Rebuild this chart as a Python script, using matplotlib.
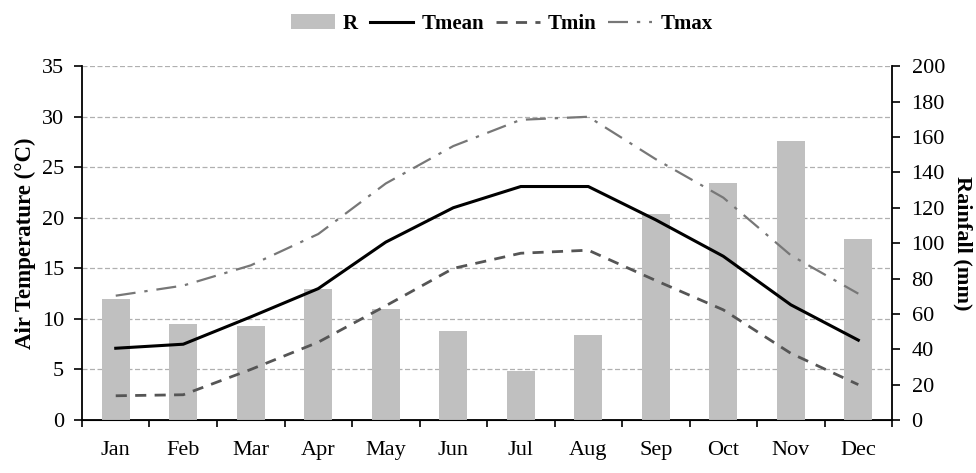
import matplotlib
matplotlib.use("Agg")
import matplotlib.pyplot as plt
import numpy as np

months = ["Jan", "Feb", "Mar", "Apr", "May", "Jun",
          "Jul", "Aug", "Sep", "Oct", "Nov", "Dec"]
rain = [68.4, 54.4, 53.3, 73.8, 62.9, 50.5, 27.7, 48.0, 116.2, 134.1, 157.6, 102.3]
tmean = [7.1, 7.5, 10.2, 13.0, 17.6, 21.0, 23.1, 23.1, 19.8, 16.2, 11.4, 7.9]
tmin = [2.4, 2.5, 5.0, 7.7, 11.3, 15.0, 16.5, 16.8, 13.8, 10.9, 6.6, 3.5]
tmax = [12.3, 13.3, 15.3, 18.4, 23.4, 27.1, 29.7, 30.0, 25.8, 22.0, 16.3, 12.5]

plt.rcParams['font.family'] = 'Liberation Serif'
plt.rcParams['font.size'] = 16

x = np.arange(len(months))

fig = plt.figure(figsize=(9.76, 4.73), dpi=100)
ax = fig.add_axes([0.084, 0.112, 0.830, 0.748])
ax2 = ax.twinx()
ax3 = ax.twinx()

# temperature axis with grid (bottom layer)
ax.set_ylim(0, 35)
ax.set_yticks(range(0, 36, 5))
ax.set_xlim(-0.5, 11.5)
ax.grid(axis='y', color='#b0b0b0', linestyle=(0, (4, 2)), linewidth=0.9)
ax.set_axisbelow(True)
ax.set_ylabel("Air Temperature (\u00b0C)", fontweight='bold', fontsize=16.5, labelpad=4)
ax.set_xticks(x)
ax.set_xticklabels(months)
ax.set_xticks(np.arange(-0.5, 12, 1), minor=True)
ax.tick_params(axis='x', which='major', length=0, pad=15)
ax.tick_params(axis='x', which='minor', length=5, width=1.2, direction='out')
ax.tick_params(axis='y', length=6, width=1.2, direction='out', pad=7)
ax.spines['top'].set_visible(False)
ax.spines['right'].set_visible(False)
ax.spines['left'].set_linewidth(1.3)
ax.spines['bottom'].set_linewidth(1.3)

# rainfall bars
bars = ax2.bar(x, rain, width=0.41, color='#c0c0c0', label='R')
ax2.set_ylim(0, 200)
ax2.set_yticks(range(0, 201, 20))
ax2.set_ylabel("Rainfall (mm)", fontweight='bold', fontsize=16, rotation=270, labelpad=20)
ax2.tick_params(axis='y', length=6, width=1.2, direction='out', pad=8)
ax2.spines['top'].set_visible(False)
ax2.spines['left'].set_visible(False)
ax2.spines['right'].set_linewidth(1.3)

# temperature lines on top
ax3.set_ylim(0, 35)
ax3.set_xlim(-0.5, 11.5)
l1, = ax3.plot(x, tmean, color='black', linewidth=2.2, label='Tmean')
l2, = ax3.plot(x, tmin, color='#555555', linewidth=2.0, linestyle=(0, (4, 3)), label='Tmin')
l3, = ax3.plot(x, tmax, color='#777777', linewidth=1.6, linestyle=(0, (9, 4, 1.5, 4)), label='Tmax')
ax3.axis('off')

fig.legend(handles=[bars, l1, l2, l3], loc='upper center', bbox_to_anchor=(0.514, 1.01),
           ncol=4, frameon=False, prop={'weight': 'bold', 'size': 15},
           handlelength=2.1, columnspacing=0.55, handletextpad=0.4)

fig.savefig("out.png", dpi=100)
